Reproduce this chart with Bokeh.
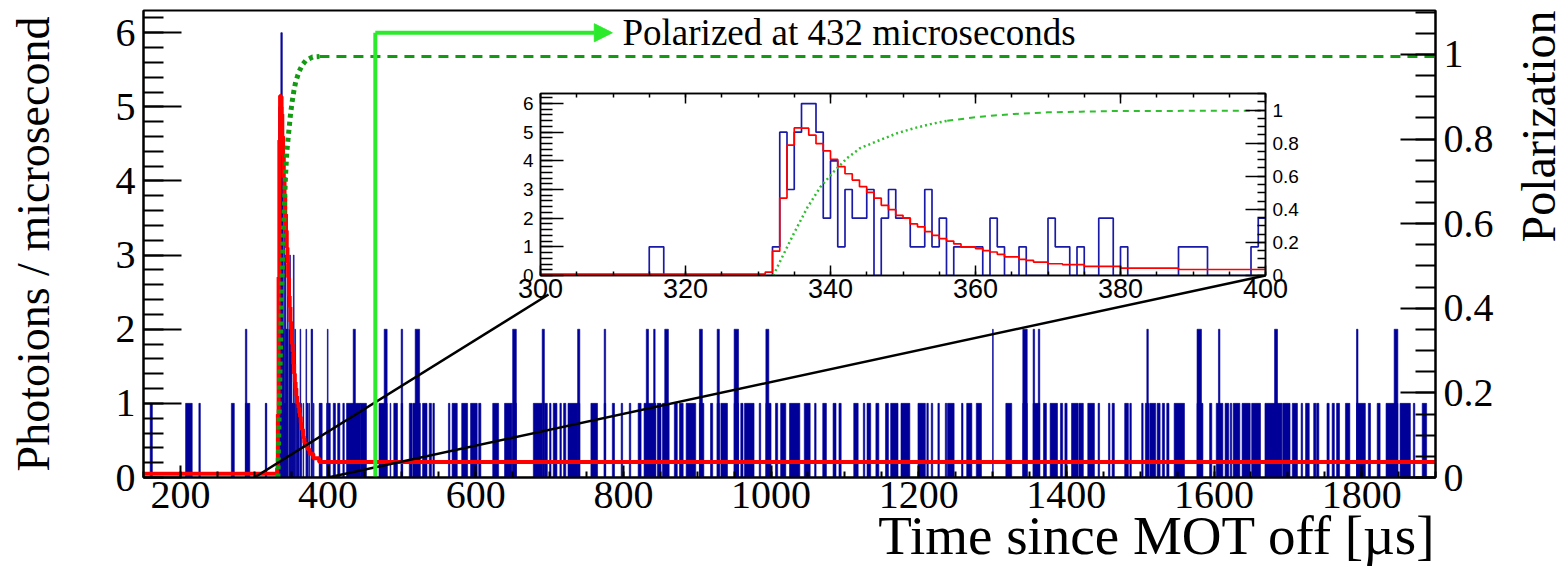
import numpy as np
from math import pi
from bokeh.plotting import figure
from bokeh.models import (Range1d, LinearAxis, SingleIntervalTicker, Label, Arrow, NormalHead,
                          CustomJSTickFormatter)
from bokeh.embed import file_html
from bokeh.resources import INLINE

# ------------------------------------------------------------------ data
# main histogram: blocks (start, end) in microseconds with 1 count, and with 2 counts
ones_blocks = [
    (159, 162), (207, 216), (225, 227), (269, 273), (288, 294),
    (400, 403), (407, 410), (413, 416), (420, 422), (425, 444),
    (444, 452), (469, 480), (484, 485), (489, 494), (499, 501), (510, 514), (515, 525), (528, 534),
    (537, 540), (542, 544), (563, 565), (568, 575), (581, 589), (593, 602), (604, 607), (623, 631),
    (639, 649), (650, 655), (678, 690), (693, 697), (700, 702), (705, 710), (714, 716), (719, 722),
    (725, 738), (738, 741), (756, 765), (774, 776), (785, 788), (797, 799), (808, 810), (820, 824),
    (828, 844), (846, 851), (853, 862), (869, 873), (876, 881), (885, 898), (903, 909), (918, 921),
    (927, 930), (932, 941), (950, 956), (959, 962), (964, 977), (984, 986), (993, 1000), (1006, 1009),
    (1013, 1020), (1025, 1039), (1045, 1053), (1059, 1061), (1070, 1075), (1084, 1088), (1092, 1095),
    (1112, 1118), (1125, 1127), (1130, 1135), (1142, 1146), (1155, 1159), (1162, 1172), (1176, 1188),
    (1199, 1209), (1211, 1213), (1217, 1219), (1226, 1228), (1236, 1238), (1239, 1248), (1258, 1260),
    (1265, 1272), (1278, 1285), (1318, 1326), (1341, 1347), (1355, 1364), (1369, 1373), (1378, 1388),
    (1392, 1395), (1398, 1401), (1407, 1416), (1417, 1423), (1429, 1438), (1443, 1445), (1457, 1459),
    (1462, 1465), (1479, 1484), (1486, 1488), (1502, 1504), (1507, 1512), (1513, 1521), (1523, 1527),
    (1530, 1533), (1536, 1539), (1546, 1560), (1577, 1585), (1594, 1597), (1603, 1612), (1615, 1620),
    (1622, 1624), (1626, 1635), (1638, 1649), (1651, 1663), (1669, 1692), (1693, 1703), (1706, 1713),
    (1718, 1720), (1724, 1729), (1735, 1738), (1739, 1742), (1753, 1756), (1760, 1763), (1766, 1770),
    (1778, 1784), (1793, 1805), (1809, 1812), (1821, 1825), (1833, 1849), (1852, 1866), (1870, 1872),
    (1882, 1888),
]
twos_blocks = [
    (288, 290), (434, 437), (476, 480), (499, 501), (518, 524), (650, 655), (690, 693), (738, 741),
    (774, 776), (831, 834), (841, 843), (856, 861), (903, 907), (927, 930), (950, 956), (993, 997),
    (1300, 1301), (1341, 1347), (1355, 1357), (1362, 1364), (1509, 1511), (1577, 1583), (1606, 1608),
    (1682, 1686), (1793, 1795), (1844, 1849),
]

# 1-us bins from 300 to 399 (inset)
inset_start = 300
inset_counts = [
    0, 0, 0, 0, 0, 0, 0, 0, 0, 0, 0, 0, 0, 0, 0,      # 300-314
    1, 1, 0, 0, 0, 0, 0, 0, 0, 0, 0, 0, 0, 0, 0,      # 315-329
    0, 0, 1, 5, 3, 5, 6, 6, 5, 2,                     # 330-339
    4, 1, 3, 2, 2, 3, 0, 2, 3, 2,                     # 340-349
    2, 1, 1, 3, 1, 2, 0, 1, 1, 1,                     # 350-359
    1, 0, 2, 1, 0, 0, 1, 0, 0, 0,                     # 360-369
    2, 1, 1, 0, 1, 0, 0, 2, 2, 0,                     # 370-379
    1, 0, 0, 0, 0, 0, 0, 0, 1, 1,                     # 380-389
    1, 1, 0, 0, 0, 0, 0, 0, 1, 2,                     # 390-399
]

# fit (red), per 1-us bin starting at 331
fit_pre = 0.05
fit_start = 331
fit_values = [0.12, 0.85, 2.7, 4.55, 5.15, 5.14, 4.9, 4.6, 4.35, 4.05,
              3.8, 3.55, 3.33, 3.1, 2.9, 2.7, 2.45, 2.3, 2.1, 2.0,
              1.8, 1.7, 1.53, 1.4, 1.29, 1.2, 1.1, 1.0, 1.0, 0.94,
              0.87, 0.82, 0.74, 0.65, 0.65, 0.56, 0.53, 0.47, 0.47, 0.41,
              0.41, 0.38, 0.38, 0.38, 0.32, 0.32, 0.32, 0.32, 0.32,
              0.26, 0.26, 0.26, 0.26, 0.26, 0.26, 0.26, 0.26,
              0.21, 0.21, 0.21, 0.21, 0.21, 0.21, 0.21, 0.21, 0.21, 0.21, 0.21, 0.21]
fit_post = 0.21

# polarization (green)
pol_t = [332.1, 333.1, 334.9, 336.8, 338.6, 340.5, 342.3, 344.1, 346.9, 349.2, 351.5,
         353.8, 356.1, 360.7, 365.3, 369.9, 374.5, 379.1, 388.3, 397.5, 1900]
pol_v = [0.0, 0.09, 0.25, 0.41, 0.535, 0.63, 0.71, 0.77, 0.82, 0.86, 0.89,
         0.915, 0.935, 0.96, 0.976, 0.986, 0.99, 0.994, 0.995, 0.995, 0.995]

polarized_t = 464
polarized_text = "Polarized at 432 microseconds"
arrow_end_t = 785

X_MAIN = (150, 1900)
Y_MAIN = (0, 6.3)
Y_POL = (0, 1.104)
X_INS = (300, 400)
Y_INS = (0, 6.35)
Y_INS_POL = (0, 1.1)

# ------------------------------------------------------------------ styles
NAVY = "#000099"
RED = "#ff0000"
GREEN_DARK = "#129a12"
GREEN_INS = "#2fbf2f"
LIME = "#2bea2b"
SERIF = "Liberation Serif"
SANS = "Liberation Sans"

W, H = 1567, 570
FL, FR, FT, FB = 143, 1435, 10, 477          # main frame in page pixels
IL, IR, IT, IB = 540, 1265, 93, 275          # inset frame in page pixels
INS_BL, INS_BR, INS_BT, INS_BB = 45, 45, 6, 45

def px_to_main_x(px):
    return X_MAIN[0] + (px - FL) * (X_MAIN[1] - X_MAIN[0]) / (FR - FL)

def py_to_main_y(py):
    return Y_MAIN[0] + (FB - py) * (Y_MAIN[1] - Y_MAIN[0]) / (FB - FT)

# ------------------------------------------------------------------ main figure
p = figure(width=W, height=H, output_backend="svg", toolbar_location=None,
           x_range=Range1d(*X_MAIN), y_range=Range1d(*Y_MAIN),
           min_border_left=FL, min_border_right=W - FR, min_border_top=FT, min_border_bottom=H - FB)
p.extra_y_ranges = {"pol": Range1d(*Y_POL)}
p.xgrid.visible = False
p.ygrid.visible = False
p.outline_line_color = "black"
p.outline_line_width = 2
p.background_fill_color = "white"

# histogram blocks
p.quad(left=[b[0] for b in ones_blocks], right=[b[1] for b in ones_blocks],
       bottom=0, top=1, fill_color=NAVY, line_color=NAVY, line_width=0.6)
p.quad(left=[b[0] for b in twos_blocks], right=[b[1] for b in twos_blocks],
       bottom=0, top=2, fill_color=NAVY, line_color=NAVY, line_width=0.6)
ins_left = [inset_start + i for i, c in enumerate(inset_counts) if c > 0]
ins_top = [c for c in inset_counts if c > 0]
p.quad(left=ins_left, right=[l + 1 for l in ins_left], bottom=0, top=ins_top,
       fill_color=NAVY, line_color=NAVY, line_width=0.6)

# fit
fit_x = [X_MAIN[0]] + [fit_start + i for i in range(len(fit_values))] + [fit_start + len(fit_values), X_MAIN[1]]
fit_y = [fit_pre] + fit_values + [fit_post, fit_post]
p.step(fit_x, fit_y, mode="after", line_color=RED, line_width=4)

# polarization
split = pol_t.index(388.3)
p.line(pol_t[:split + 1], pol_v[:split + 1], y_range_name="pol", line_color=GREEN_DARK,
       line_width=5, line_dash="4 4")
p.line(pol_t[split:], pol_v[split:], y_range_name="pol", line_color=GREEN_DARK,
       line_width=3, line_dash="10 7")

# zoom lines (to the inset)
p.line([X_INS[0], px_to_main_x(548)], [0, py_to_main_y(294)], line_color="black", line_width=2.5)
p.line([X_INS[1], px_to_main_x(IR)], [0, py_to_main_y(IB)], line_color="black", line_width=2.5)

# polarized marker
p.line([polarized_t, polarized_t], [0, 6], line_color=LIME, line_width=4)
p.add_layout(Arrow(end=NormalHead(size=18, fill_color=LIME, line_color=LIME),
                   x_start=polarized_t, y_start=6, x_end=arrow_end_t, y_end=6,
                   line_color=LIME, line_width=4))
p.add_layout(Label(x=px_to_main_x(622), y=6, text=polarized_text, text_font=SERIF,
                   text_font_size="37px", text_baseline="middle", text_color="black"))

# axes
for ax in (p.xaxis[0], p.yaxis[0]):
    ax.axis_line_width = 2
    ax.major_label_text_font = SERIF
    ax.major_label_text_font_size = "40px"
    ax.major_label_text_color = "black"
    ax.major_tick_out = 0
    ax.minor_tick_out = 0
    ax.major_tick_line_width = 2
    ax.minor_tick_line_width = 2

p.xaxis.ticker = SingleIntervalTicker(interval=200, num_minor_ticks=4)
p.xaxis.major_tick_in = 12
p.xaxis.minor_tick_in = 6
p.xaxis.major_label_standoff = 4

p.yaxis.ticker = SingleIntervalTicker(interval=1, num_minor_ticks=5)
p.yaxis.major_tick_in = 38
p.yaxis.minor_tick_in = 20
p.yaxis.major_label_standoff = 8
p.yaxis.axis_label = "Photoions / microsecond"
p.yaxis.axis_label_text_font = SERIF
p.yaxis.axis_label_text_font_size = "46px"
p.yaxis.axis_label_text_font_style = "normal"
p.yaxis.axis_label_text_color = "black"
p.yaxis.axis_label_standoff = 54

fmt = CustomJSTickFormatter(code="""
  if (Math.abs(tick) < 1e-9) return '0';
  if (Math.abs(tick - 1) < 1e-9) return '1';
  return tick.toFixed(1);
""")
rax = LinearAxis(y_range_name="pol", ticker=SingleIntervalTicker(interval=0.2, num_minor_ticks=4),
                 formatter=fmt, axis_line_width=2, major_tick_in=35, major_tick_out=0,
                 minor_tick_in=20, minor_tick_out=0, major_tick_line_width=2, minor_tick_line_width=2,
                 major_label_text_font=SERIF, major_label_text_font_size="40px",
                 major_label_text_color="black", major_label_standoff=8)
p.add_layout(rax, "right")

# ------------------------------------------------------------------ inset figure
iw = (IR - IL) + INS_BL + INS_BR
ih = (IB - IT) + INS_BT + INS_BB
q = figure(width=iw, height=ih, output_backend="svg", toolbar_location=None,
           x_range=Range1d(*X_INS), y_range=Range1d(*Y_INS),
           min_border_left=INS_BL, min_border_right=INS_BR, min_border_top=INS_BT,
           min_border_bottom=INS_BB)
q.extra_y_ranges = {"pol": Range1d(*Y_INS_POL)}
q.styles = {"position": "absolute", "left": f"{IL - INS_BL}px", "top": f"{IT - INS_BT}px",
            "z-index": "10"}
q.border_fill_alpha = 0
q.background_fill_color = "white"
q.xgrid.visible = False
q.ygrid.visible = False
q.outline_line_color = "black"
q.outline_line_width = 1.5

edges = [inset_start + i for i in range(len(inset_counts) + 1)]
q.step(edges, inset_counts + [inset_counts[-1]], mode="after", line_color="#1a1aa8", line_width=1.7)
ins_fit_x = [X_INS[0]] + [fit_start + i for i in range(len(fit_values))] + [fit_start + len(fit_values)]
ins_fit_y = [fit_pre] + fit_values + [fit_post]
q.step(ins_fit_x, ins_fit_y, mode="after", line_color=RED, line_width=1.7)
isplit = pol_t.index(356.1)
q.line(pol_t[:isplit + 1], pol_v[:isplit + 1], y_range_name="pol", line_color=GREEN_INS,
       line_width=2.5, line_dash="2 3")
q.line(pol_t[isplit:], pol_v[isplit:], y_range_name="pol", line_color=GREEN_INS,
       line_width=2, line_dash="6 5")

for ax in (q.xaxis[0], q.yaxis[0]):
    ax.axis_line_width = 1.5
    ax.major_label_text_font = SANS
    ax.major_label_text_color = "black"
    ax.major_tick_out = 0
    ax.minor_tick_out = 0
    ax.major_tick_line_width = 1.5
    ax.minor_tick_line_width = 1.5
q.xaxis.ticker = SingleIntervalTicker(interval=20, num_minor_ticks=4)
q.xaxis.major_tick_in = 10
q.xaxis.minor_tick_in = 4
q.xaxis.major_label_text_font_size = "27px"
q.xaxis.major_label_standoff = 3
q.yaxis.ticker = SingleIntervalTicker(interval=1, num_minor_ticks=5)
q.yaxis.major_tick_in = 23
q.yaxis.minor_tick_in = 12
q.yaxis.major_label_text_font_size = "19px"
q.yaxis.major_label_standoff = 7

tax = LinearAxis(ticker=SingleIntervalTicker(interval=20, num_minor_ticks=4),
                 formatter=CustomJSTickFormatter(code="return ''"),
                 major_label_standoff=0, axis_line_width=1.5,
                 major_tick_in=10, major_tick_out=0, minor_tick_in=4, minor_tick_out=0,
                 major_tick_line_width=1.5, minor_tick_line_width=1.5)
q.add_layout(tax, "above")
irax = LinearAxis(y_range_name="pol", ticker=SingleIntervalTicker(interval=0.2, num_minor_ticks=4),
                  formatter=fmt, axis_line_width=1.5, major_tick_in=20, major_tick_out=0,
                  minor_tick_in=8, minor_tick_out=0, major_tick_line_width=1.5,
                  minor_tick_line_width=1.5, major_label_text_font=SANS,
                  major_label_text_color="black",
                  major_label_text_font_size="19px", major_label_standoff=7)
q.add_layout(irax, "right")

# ------------------------------------------------------------------ overlay for titles (page pixels)
o = figure(width=W, height=H, output_backend="svg", toolbar_location=None,
           x_range=Range1d(0, W), y_range=Range1d(0, H),
           x_axis_location=None, y_axis_location=None,
           min_border_left=0, min_border_right=0, min_border_top=0, min_border_bottom=0)
o.styles = {"position": "absolute", "left": "0px", "top": "0px", "z-index": "20",
            "pointer-events": "none"}
o.xgrid.visible = False
o.ygrid.visible = False
o.outline_line_color = None
o.background_fill_alpha = 0
o.border_fill_alpha = 0
o.add_layout(Label(x=FR, y=H - 535, text="Time since MOT off [\u00b5s]",
                   text_font=SERIF, text_font_size="55px", text_align="right",
                   text_baseline="middle", text_color="black"))
o.add_layout(Label(x=1538, y=H - 10, text="Polarization",
                   text_font=SERIF, text_font_size="48px", text_align="right",
                   text_baseline="middle", angle=pi / 2, text_color="black"))

open("out.html", "w").write(file_html([p, q, o], INLINE))
